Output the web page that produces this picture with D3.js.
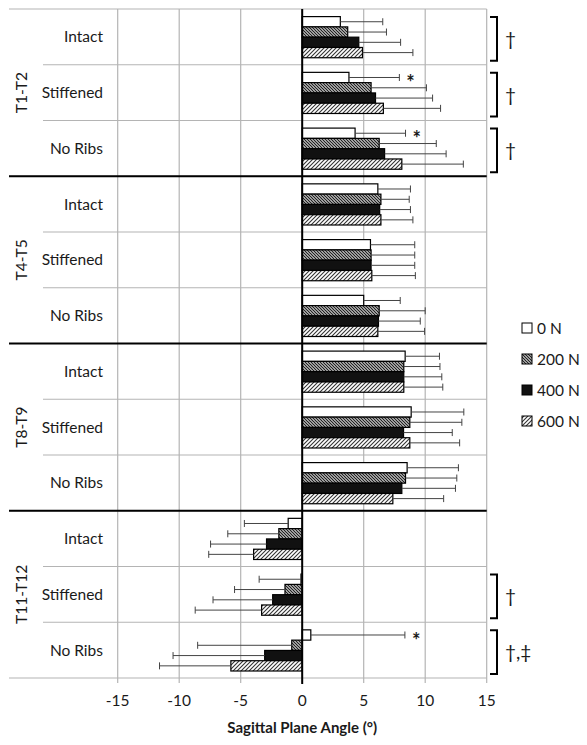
<!DOCTYPE html>
<html><head><meta charset="utf-8">
<script src="https://cdn.jsdelivr.net/npm/d3@7"></script>
<style>body{margin:0;background:#fff}svg{display:block}text{font-family:Lato,"Open Sans",sans-serif;fill:#1a1a1a}</style>
</head><body><svg id="c" width="587" height="745"></svg>
<script>
const groups = ["T1-T2","T4-T5","T8-T9","T11-T12"];
const conditions = ["Intact","Stiffened","No Ribs"];
const series = ["0 N","200 N","400 N","600 N"];
const mean0   = [3.1, 3.8, 4.3, 6.15, 5.55, 5.0, 8.37, 8.86, 8.53, -1.14, -0.1, 0.7];
const mean200 = [3.7, 5.6, 6.26, 6.4, 5.6, 6.26, 8.26, 8.75, 8.4, -1.9, -1.4, -0.85];
const mean400 = [4.6, 5.96, 6.7, 6.3, 5.6, 6.2, 8.26, 8.24, 8.1, -2.9, -2.4, -3.05];
const mean600 = [4.9, 6.6, 8.1, 6.4, 5.66, 6.15, 8.26, 8.75, 7.37, -3.95, -3.3, -5.8];
const sd0   = [3.45, 4.1, 4.1, 2.65, 3.6, 2.97, 2.79, 4.28, 4.17, 3.56, 3.4, 7.65];
const sd200 = [3.15, 4.5, 4.64, 2.3, 3.55, 3.74, 2.94, 4.23, 4.17, 4.15, 4.1, 7.65];
const sd400 = [3.4, 4.64, 5.0, 2.5, 3.55, 3.4, 3.09, 3.96, 4.36, 4.55, 4.85, 7.45];
const sd600 = [4.1, 4.65, 5.0, 2.6, 3.54, 3.8, 3.17, 4.05, 4.13, 3.65, 5.4, 5.8];
const xTicks = [-15,-10,-5,0,5,10,15];
const starRows = [1, 2, 11];
const bracketRows = [0, 1, 2, 10, 11];
const bracketLabels = ["†","†","†","†","†,‡"];
const xTitle = "Sagittal Plane Angle (°)";

const means = [mean0, mean200, mean400, mean600];
const sds = [sd0, sd200, sd400, sd600];
const rows = [];
groups.forEach(g => conditions.forEach(c => rows.push(g + "|" + c)));

const svg = d3.select("#c");
const X0 = 117.7, X1 = 486.7, Y0 = 9, Y1 = 678;
const x = d3.scaleLinear().domain([-15, 15]).range([X0, X1]);
const y = d3.scaleBand().domain(rows).range([Y0, Y1]);
const rh = y.bandwidth();
const ys = d3.scaleBand().domain(series).range([7.6, rh - 7]).padding(0);

// patterns
const defs = svg.append("defs");
const p1 = defs.append("pattern").attr("id","h200").attr("patternUnits","userSpaceOnUse").attr("width",3).attr("height",3);
p1.append("rect").attr("width",3).attr("height",3).attr("fill","#fff");
p1.append("path").attr("d","M-1,-1 L4,4 M-1,2 L1,4 M2,-1 L4,1").attr("stroke","#222").attr("stroke-width",1.3);
const p2 = defs.append("pattern").attr("id","h600").attr("patternUnits","userSpaceOnUse").attr("width",4).attr("height",4);
p2.append("rect").attr("width",4).attr("height",4).attr("fill","#fff");
p2.append("path").attr("d","M-1,5 L5,-1 M-1,1 L1,-1 M3,5 L5,3").attr("stroke","#333").attr("stroke-width",1.1);
const fills = ["#fff","url(#h200)","#111","url(#h600)"];

// vertical gridlines
svg.append("g").selectAll("line").data(xTicks).join("line")
  .attr("x1", d => x(d)).attr("x2", d => x(d)).attr("y1", Y0).attr("y2", Y1 + 5)
  .attr("stroke", "#b4b4b4").attr("stroke-width", 1.2);
// row gridlines
svg.append("g").selectAll("line").data(rows.slice(1)).join("line")
  .attr("x1", (d,i) => (i+1) % 3 === 0 ? 9 : 43).attr("x2", X1)
  .attr("y1", d => y(d)).attr("y2", d => y(d))
  .attr("stroke", "#b4b4b4").attr("stroke-width", 1.2);
// top & bottom
svg.append("line").attr("x1",9).attr("x2",X1).attr("y1",Y0).attr("y2",Y0).attr("stroke","#b4b4b4").attr("stroke-width",1.2);
svg.append("line").attr("x1",9).attr("x2",X1).attr("y1",Y1).attr("y2",Y1).attr("stroke","#b4b4b4").attr("stroke-width",1.2);
// group separators
svg.append("g").selectAll("line").data([3,6,9]).join("line")
  .attr("x1", 9).attr("x2", X1).attr("y1", d => y(rows[d])).attr("y2", d => y(rows[d]))
  .attr("stroke", "#000").attr("stroke-width", 2);

// bars
series.forEach((s, si) => {
  const g = svg.append("g");
  g.selectAll("rect").data(rows).join("rect")
    .attr("x", (d,i) => x(Math.min(0, means[si][i])))
    .attr("width", (d,i) => Math.abs(x(means[si][i]) - x(0)))
    .attr("y", d => y(d) + ys(s))
    .attr("height", ys.bandwidth())
    .attr("fill", fills[si]).attr("stroke", "#000").attr("stroke-width", 1.2);
});
// error bars
series.forEach((s, si) => {
  const g = svg.append("g").attr("stroke", "#444").attr("stroke-width", 1);
  rows.forEach((r, i) => {
    const m = means[si][i], e = m + Math.sign(m) * sds[si][i];
    const cy = y(r) + ys(s) + ys.bandwidth() / 2;
    g.append("line").attr("x1", x(m)).attr("x2", x(e)).attr("y1", cy).attr("y2", cy);
    g.append("line").attr("x1", x(e)).attr("x2", x(e)).attr("y1", cy - 3.5).attr("y2", cy + 3.5);
  });
});
// zero axis
svg.append("line").attr("x1", x(0)).attr("x2", x(0)).attr("y1", Y0).attr("y2", Y1 + 6)
  .attr("stroke", "#000").attr("stroke-width", 2);

// stars
starRows.forEach(i => {
  const m = means[0][i], e = m + sds[0][i];
  svg.append("text").attr("x", x(e) + 7).attr("y", y(rows[i]) + ys(series[0]) + ys.bandwidth()/2 + 13)
    .attr("font-size", 20).attr("font-weight", "bold").text("*");
});
// brackets
bracketRows.forEach((i, k) => {
  const t = y(rows[i]) + 8, b = y(rows[i]) + rh - 4;
  svg.append("path").attr("d", `M490,${t} H497 V${b} H490`).attr("fill","none").attr("stroke","#000").attr("stroke-width",2);
  svg.append("text").attr("x", 505).attr("y", (t + b) / 2 + 7).attr("font-size", 19).text(bracketLabels[k]);
});

// row labels
svg.append("g").selectAll("text").data(rows).join("text")
  .attr("x", 103).attr("y", d => y(d) + rh / 2 + 5.5).attr("text-anchor", "end")
  .attr("font-size", 15.5).text(d => d.split("|")[1]);
// group labels
groups.forEach((g, gi) => {
  const cy = y(rows[gi*3]) + rh * 1.5;
  svg.append("text").attr("transform", `translate(27,${cy}) rotate(-90)`)
    .attr("text-anchor", "middle").attr("font-size", 15.5).text(g);
});

// x axis labels
svg.append("g").selectAll("text").data(xTicks).join("text")
  .attr("x", d => x(d)).attr("y", 706).attr("text-anchor", "middle").attr("font-size", 15.5).text(d => d);
svg.append("text").attr("x", x(0)).attr("y", 733).attr("text-anchor", "middle")
  .attr("font-size", 15).attr("font-weight", "bold").text(xTitle);

// legend
const leg = svg.append("g");
series.forEach((s, si) => {
  const cy = 328 + si * 31;
  leg.append("rect").attr("x", 522).attr("y", cy - 5).attr("width", 10).attr("height", 10)
    .attr("fill", fills[si]).attr("stroke", "#000").attr("stroke-width", 1);
  leg.append("text").attr("x", 537).attr("y", cy + 5.5).attr("font-size", 15.5).text(s);
});
</script></body></html>
